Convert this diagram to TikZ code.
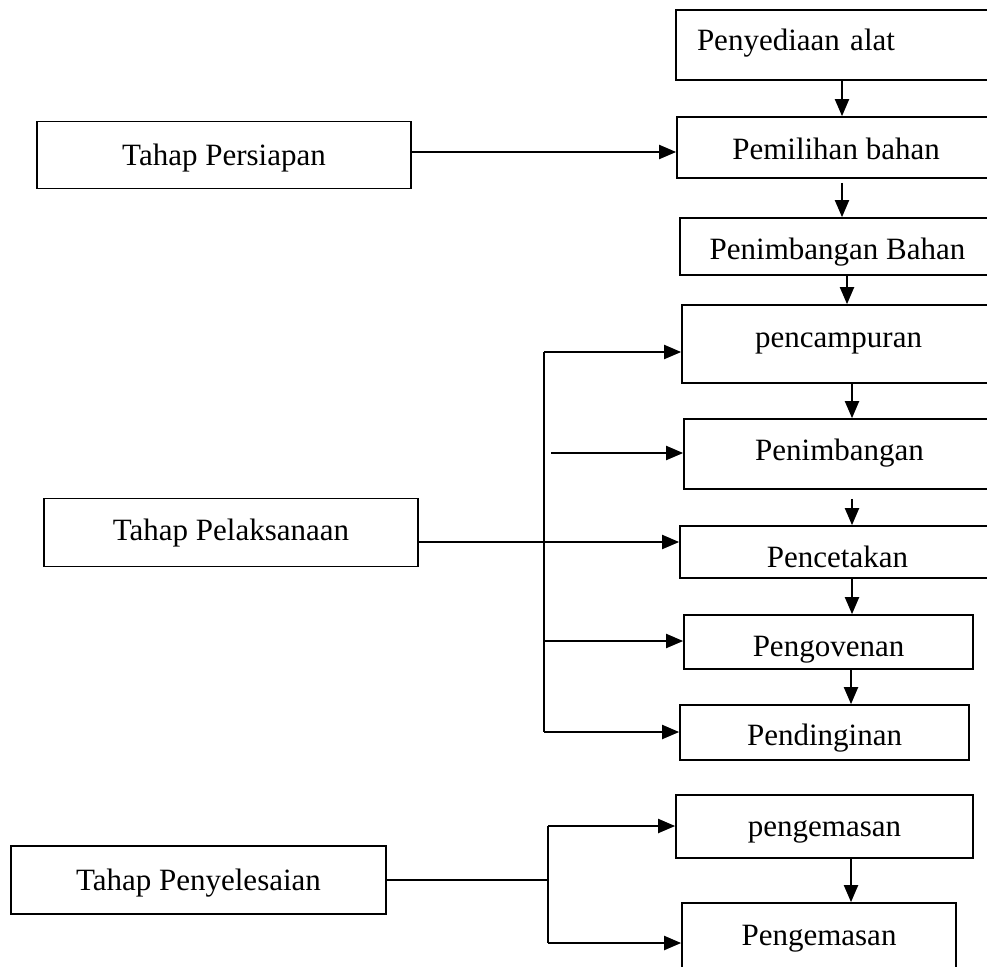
\documentclass[tikz,border=0pt]{standalone}
\usepackage{fontspec}
\setmainfont{Liberation Serif}
\usetikzlibrary{arrows.meta}
\tikzset{
  box/.style={draw, line width=1.7pt, rectangle, inner sep=0pt,
    text height=27pt, text depth=7pt,
    font=\fontsize{31pt}{37pt}\selectfont},
  arr/.style={line width=2pt, -{Triangle[length=17pt,width=14pt]}},
  ln/.style={line width=2pt}
}
\begin{document}
\begin{tikzpicture}[x=1pt,y=-1pt]
\useasboundingbox (0,0) rectangle (987,966);
% right column
\node[box, minimum width=319pt, minimum height=70pt, align=left, text width=277pt, inner xsep=21pt] (alat) at (835.5,45) {\raisebox{4pt}{Penyediaan alat}};
\node[box, minimum width=318pt, minimum height=61pt] (pemilihan) at (836,147.5) {\raisebox{-2pt}{Pemilihan bahan}};
\node[box, minimum width=315pt, minimum height=57pt] (penimbB) at (837.5,246.5) {\raisebox{-2.5pt}{Penimbangan Bahan}};
\node[box, minimum width=313pt, minimum height=78pt] (pencampuran) at (838.5,344) {\raisebox{7pt}{pencampuran}};
\node[box, minimum width=311pt, minimum height=70pt] (penimbangan) at (839.5,454) {\raisebox{3.5pt}{Penimbangan}};
\node[box, minimum width=315pt, minimum height=52pt] (pencetakan) at (837.5,552) {\raisebox{-5pt}{Pencetakan}};
\node[box, minimum width=289pt, minimum height=54pt] (pengovenan) at (828.5,642) {\raisebox{-4pt}{Pengovenan}};
\node[box, minimum width=289pt, minimum height=55pt] (pendinginan) at (824.5,732.5) {\raisebox{-3pt}{Pendinginan}};
\node[box, minimum width=297pt, minimum height=63pt] (pengemasanA) at (824.5,826.5) {pengemasan};
\node[box, minimum width=274pt, minimum height=72pt] (pengemasanB) at (819,939) {\raisebox{4pt}{Pengemasan}};
% left column
\node[box, minimum width=374pt, minimum height=67pt] (persiapan) at (224,155) {Tahap Persiapan};
\node[box, minimum width=374pt, minimum height=68pt] (pelaksanaan) at (231,532.5) {\raisebox{2pt}{Tahap Pelaksanaan}};
\node[box, minimum width=375pt, minimum height=68pt] (penyelesaian) at (198.5,880) {Tahap Penyelesaian};
% helper coordinates
\coordinate (c1) at (842,0);
\coordinate (c2) at (847,0);
\coordinate (c3) at (852,0);
\coordinate (c4) at (851,0);
\coordinate (yP) at (0,152);
\coordinate (yL) at (0,542);
\coordinate (busTop) at (544,352);
\coordinate (busBot) at (544,732);
\coordinate (busOv) at (544,641);
\coordinate (penStart) at (551,453);
\coordinate (sTop) at (548,826);
\coordinate (sMid) at (548,880);
\coordinate (sBot) at (548,943);
% vertical flow arrows
\draw[arr] (alat.south -| c1) -- (pemilihan.north -| c1);
\draw[arr] ([yshift=-4pt]pemilihan.south -| c1) -- (penimbB.north -| c1);
\draw[arr] (penimbB.south -| c2) -- (pencampuran.north -| c2);
\draw[arr] (pencampuran.south -| c3) -- (penimbangan.north -| c3);
\draw[arr] ([yshift=-9pt]penimbangan.south -| c3) -- (pencetakan.north -| c3);
\draw[arr] (pencetakan.south -| c3) -- (pengovenan.north -| c3);
\draw[arr] (pengovenan.south -| c4) -- (pendinginan.north -| c4);
\draw[arr] (pengemasanA.south -| c4) -- (pengemasanB.north -| c4);
% Tahap Persiapan
\draw[arr] (persiapan.east |- yP) -- (pemilihan.west |- yP);
% Tahap Pelaksanaan
\draw[ln] (busTop) -- (busBot);
\draw[arr] (busTop) -- (pencampuran.west |- busTop);
\draw[arr] (penStart) -- (penimbangan.west |- penStart);
\draw[arr] (pelaksanaan.east |- yL) -- (pencetakan.west |- yL);
\draw[arr] (busOv) -- (pengovenan.west |- busOv);
\draw[arr] (busBot) -- (pendinginan.west |- busBot);
% Tahap Penyelesaian
\draw[ln] (penyelesaian.east) -- (sMid);
\draw[ln] (sTop) -- (sBot);
\draw[arr] (sTop) -- (pengemasanA.west |- sTop);
\draw[arr] (sBot) -- (pengemasanB.west |- sBot);
\end{tikzpicture}
\end{document}
